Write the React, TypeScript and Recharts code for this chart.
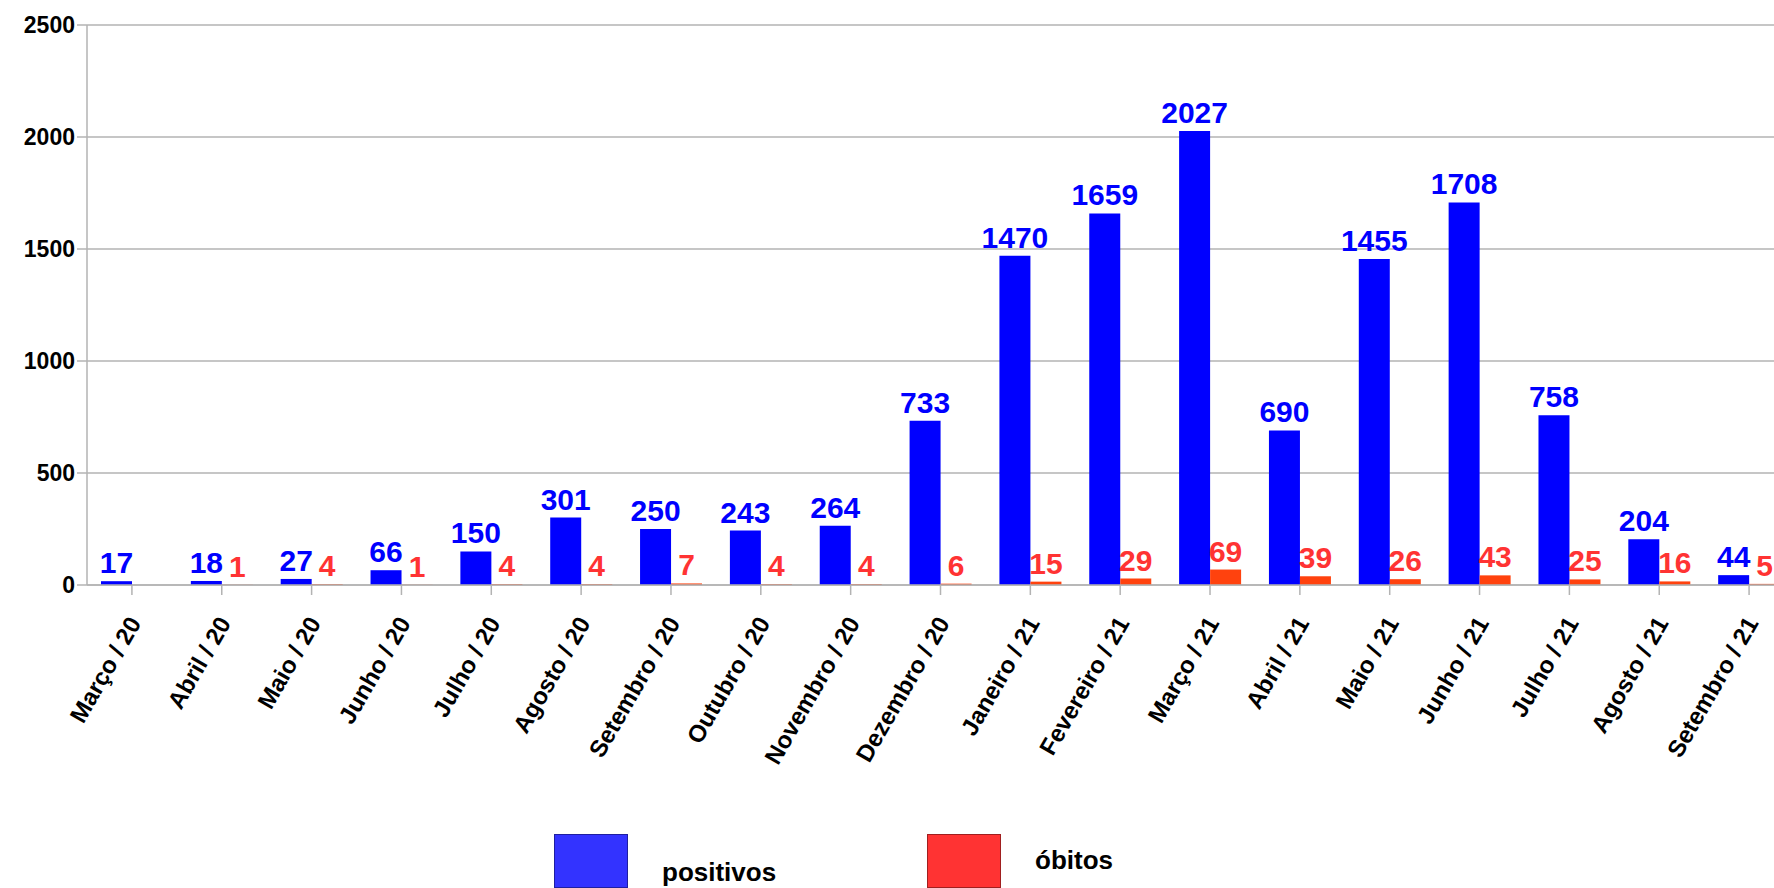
import React from 'react';
import { BarChart, Bar, XAxis, YAxis, CartesianGrid, LabelList } from 'recharts';

const months = [
  'Março / 20', 'Abril / 20', 'Maio / 20', 'Junho / 20', 'Julho / 20', 'Agosto / 20',
  'Setembro / 20', 'Outubro / 20', 'Novembro / 20', 'Dezembro / 20', 'Janeiro / 21',
  'Fevereiro / 21', 'Março / 21', 'Abril / 21', 'Maio / 21', 'Junho / 21', 'Julho / 21',
  'Agosto / 21', 'Setembro / 21',
];
const positivos = [17, 18, 27, 66, 150, 301, 250, 243, 264, 733, 1470, 1659, 2027, 690, 1455, 1708, 758, 204, 44];
const obitos: (number | null)[] = [null, 1, 4, 1, 4, 4, 7, 4, 4, 6, 15, 29, 69, 39, 26, 43, 25, 16, 5];
const yTicks = [0, 500, 1000, 1500, 2000, 2500];

const data = months.map((m, i) => ({ month: m, positivos: positivos[i], obitos: obitos[i] }));

const FONT = '"Liberation Sans", Arial, sans-serif';

const MonthTick = ({ x, y, payload }: any) => (
  <text
    x={x + 10}
    y={y + 26}
    transform={`rotate(-60, ${x + 10}, ${y + 26})`}
    textAnchor="end"
    fontFamily={FONT}
    fontWeight="bold"
    fontSize={24}
    fill="#000"
  >
    {payload.value}
  </text>
);

export default function App() {
  React.useEffect(() => {
    document.body.style.margin = '0';
  }, []);

  return (
    <div style={{ position: 'relative', width: 1774, height: 888, overflow: 'hidden', fontFamily: FONT, background: '#fff' }}>
      <BarChart
        width={1794}
        height={888}
        data={data}
        margin={{ top: 25, right: 0, left: 7, bottom: 0 }}
        barGap={0}
        barSize={31}
      >
        <CartesianGrid vertical={false} stroke="#b3b3b3" strokeWidth={1.5} />
        <XAxis
          dataKey="month"
          height={303}
          interval={0}
          tick={<MonthTick />}
          stroke="#b3b3b3"
          strokeWidth={1.5}
          tickSize={10}
        />
        <YAxis
          width={80}
          domain={[0, 2500]}
          ticks={yTicks}
          stroke="#b3b3b3"
          strokeWidth={1.5}
          tickSize={10}
          tick={{ fill: '#000', fontSize: 23, fontWeight: 'bold', fontFamily: FONT }}
        />
        <Bar dataKey="positivos" fill="#0000ff" isAnimationActive={false}>
          <LabelList
            dataKey="positivos"
            position="top"
            offset={8}
            fill="#0000ff"
            fontSize={30}
            fontWeight="bold"
            fontFamily={FONT}
          />
        </Bar>
        <Bar dataKey="obitos" fill="#ff420e" isAnimationActive={false}>
          <LabelList
            dataKey="obitos"
            position="top"
            offset={8}
            fill="#ff3333"
            fontSize={30}
            fontWeight="bold"
            fontFamily={FONT}
          />
        </Bar>
      </BarChart>
      <div style={{ position: 'absolute', left: 554, top: 834, width: 74, height: 54, background: '#3333ff', border: '1px solid #1f1fa0', boxSizing: 'border-box' }} />
      <div style={{ position: 'absolute', left: 662, top: 857, fontSize: 26, fontWeight: 'bold' }}>positivos</div>
      <div style={{ position: 'absolute', left: 927, top: 834, width: 74, height: 54, background: '#ff3333', border: '1px solid #a01f1f', boxSizing: 'border-box' }} />
      <div style={{ position: 'absolute', left: 1035, top: 845, fontSize: 26, fontWeight: 'bold' }}>óbitos</div>
    </div>
  );
}
